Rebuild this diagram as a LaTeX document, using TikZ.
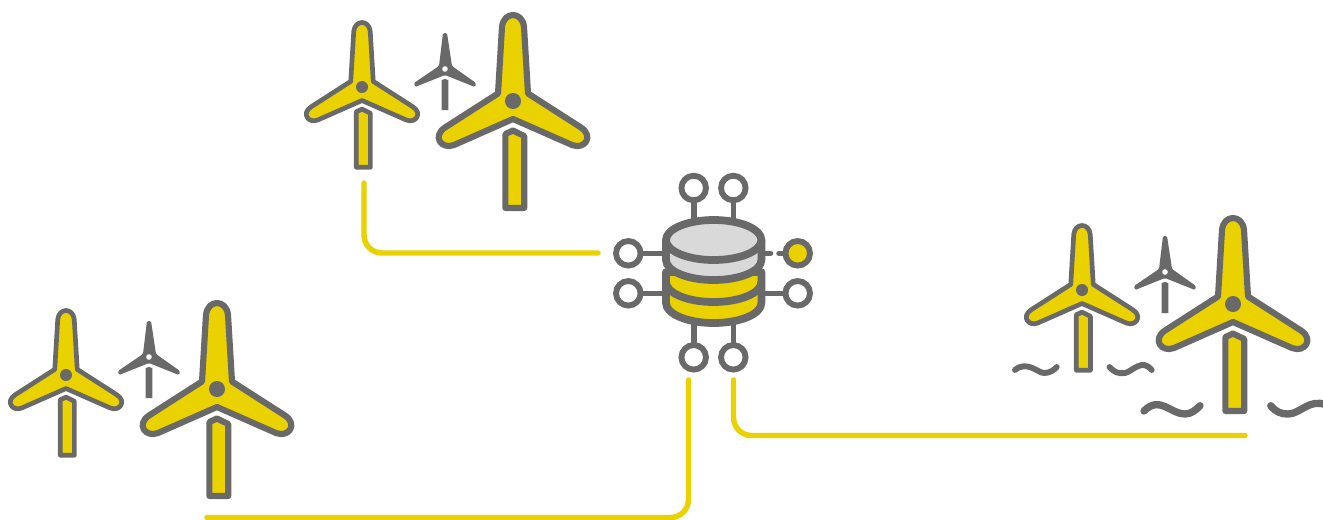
\documentclass[tikz,border=0pt]{standalone}
\usepackage{tikz}
\usetikzlibrary{positioning}
\definecolor{windyellow}{HTML}{EAD100}
\definecolor{windgray}{HTML}{696969}
\definecolor{disclight}{HTML}{D9D9D9}
\tikzset{
  hull/.style={draw=windgray, fill=windyellow, line join=round},
  feeder/.style={draw=windyellow, line width=4.1pt, line cap=round, rounded corners=13.5pt},
  port/.style={circle, draw=windgray, fill=white, line width=4.4pt, minimum size=18.4pt, inner sep=0pt},
  stub/.style={draw=windgray, line width=4.2pt, line cap=round},
  disc/.style={draw=windgray, line width=5.8pt, line join=round},
  wavesm/.style={draw=windgray, line width=4.4pt, line cap=round},
  wavelg/.style={draw=windgray, line width=5.5pt, line cap=round},
  pics/turbine/.style={code={
    \draw[hull] (-15,-7.5) -- (-11,-74) .. controls (-9.5,-90) and (9.5,-90) .. (11,-74) -- (15,-7.5)
      -- (68,26.5) .. controls (81,35) and (72,49) .. (59,44) -- (0,18) -- (-59,44)
      .. controls (-72,49) and (-81,35) .. (-68,26.5) -- cycle;
    \draw[hull] (-7.6,33) -- (0,29.5) -- (11.2,35) -- (11.2,107) -- (-7.6,107) -- cycle;
    \fill[windgray] (0,0) circle[radius=8];
  }},
  pics/tinyturbine/.style={code={
    \fill[windgray, rounded corners=1pt] (-6,-3) -- (-2,-36) -- (2,-36) -- (7,-3) -- (31,14) -- (30,18)
      -- (0,6) -- (-30,18) -- (-31,14) -- cycle;
    \fill[windgray] (-3.3,11) -- (0,10) -- (3.3,11) -- (3.3,41) -- (-3.3,41) -- cycle;
    \fill[white] (0,0) circle[radius=2.8];
  }},
  pics/windfarm/.style={code={
    \pic[scale=.75, line width=3.5pt] (mast) at (-151,-14) {turbine};
    \pic (tiny) at (-68,-32) {tinyturbine};
    \pic[line width=4.6pt] (main) at (0,0) {turbine};
  }},
}

\begin{document}
\begin{tikzpicture}[x=0.75pt, y=-0.75pt]
  \clip (0,0) rectangle (1323,519);

  % farms
  \pic (farmn) at (513,101) {windfarm};
  \pic (farmw) at (217,389) {windfarm};
  \pic (farme) at (1233,304) {windfarm};

  % sea
  \draw[wavesm] (1015,370) .. controls (1027,360) and (1038,373) .. (1044,373) .. controls (1050,373) and (1054,370) .. (1056.7,367);
  \draw[wavesm] (1109.5,367) .. controls (1114,372) and (1118,374) .. (1125,373) .. controls (1133,371) and (1142,358) .. (1151.7,370);
  \draw[wavelg] (1144,411) .. controls (1160,395) and (1170,414) .. (1185,414) .. controls (1191,414) and (1196,410) .. (1200,405.7);
  \draw[wavelg] (1270.7,405.7) .. controls (1276,412) and (1281,414) .. (1288,414) .. controls (1300,414) and (1310,398) .. (1326,405);

  % feeders
  \coordinate (feedn) at (364,183);
  \coordinate (feednend) at (598,253);
  \coordinate (feedw) at (688.5,380);
  \coordinate (feedwend) at (207,517.5);
  \coordinate (feede) at (733.5,380);
  \coordinate (feedeend) at (1245,435.5);
  \draw[feeder] (feedn) |- (feednend);
  \draw[feeder] (feedw) |- (feedwend);
  \draw[feeder] (feede) |- (feedeend);

  % ports round the database
  \coordinate (db) at (713.7,240);
  \coordinate (dbbase) at (713.7,303);
  \node[port] (portna) at (693.7,188) {};
  \node[port] (portnb) at (733.3,188) {};
  \node[port] (portwa) at (628.3,253.3) {};
  \node[port] (portwb) at (628.3,293.3) {};
  \node[port, fill=windyellow] (portea) at (797.7,253.3) {};
  \node[port] (porteb) at (797.7,293.3) {};
  \node[port] (portsa) at (693.7,357.3) {};
  \node[port] (portsb) at (733.3,357.3) {};
  \coordinate (gapw) at (770.5,253.3);
  \coordinate (gape) at (779,253.3);
  \draw[stub] (portna) -- (portna |- db);
  \draw[stub] (portnb) -- (portnb |- db);
  \draw[stub] (portwa) -- (portwa -| db);
  \draw[stub] (portwb) -- (portwb -| db);
  \draw[stub] (db |- gapw) -- (gapw);
  \draw[stub] (gape) -- (portea);
  \draw[stub] (porteb) -- (porteb -| db);
  \draw[stub] (portsa) -- (portsa |- dbbase);
  \draw[stub] (portsb) -- (portsb |- dbbase);

  % database
  \draw[disc, fill=windyellow] (666,272) -- (666,303) arc[start angle=180, end angle=0, x radius=47.7, y radius=20] -- (761.4,272) -- cycle;
  \draw[disc] (666,282) arc[start angle=180, end angle=0, x radius=47.7, y radius=20];
  \draw[disc, fill=disclight] (666,240) -- (666,260) arc[start angle=180, end angle=0, x radius=47.7, y radius=20] -- (761.4,240) -- cycle;
  \draw[disc, fill=disclight] (db) ellipse[x radius=47.7, y radius=20];
\end{tikzpicture}
\end{document}
